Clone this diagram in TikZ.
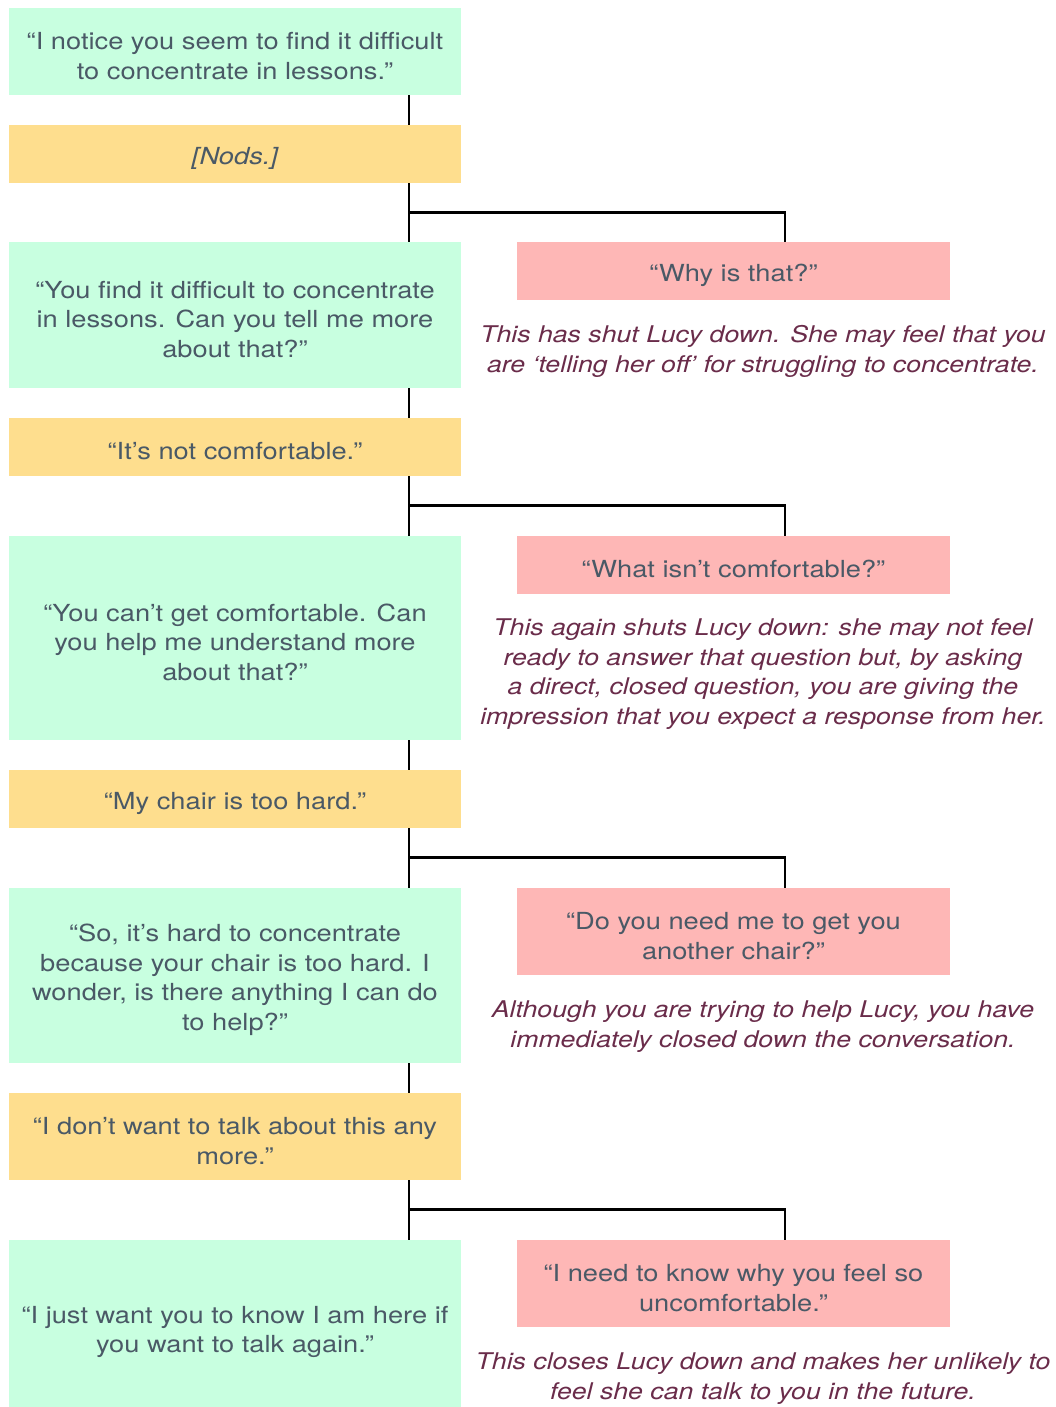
\documentclass[tikz,border=0pt]{standalone}
\usepackage{fontspec}
\setmainfont{TeX Gyre Heros}[FakeStretch=1.16]
\definecolor{gfill}{HTML}{C8FFE0}
\definecolor{yfill}{HTML}{FEDE8E}
\definecolor{pfill}{HTML}{FEB7B6}
\definecolor{txt}{HTML}{4A5966}
\definecolor{ctxt}{HTML}{6A2C4A}
\newcommand{\topgap}{\rule{0pt}{26pt}}
\newcommand{\ctopgap}{\rule{0pt}{23pt}}
\tikzset{
  boxbase/.style={rectangle, inner sep=0pt, align=center, text=txt,
    font=\fontsize{23.5}{29.5}\selectfont},
  gbox/.style={boxbase, fill=gfill, minimum width=452pt},
  ybox/.style={boxbase, fill=yfill, minimum width=452pt},
  pbox/.style={boxbase, fill=pfill, minimum width=433pt},
  comment/.style={inner sep=0pt, align=center, text=ctxt,
    font=\fontsize{23}{29.5}\selectfont\itshape},
  link/.style={draw=black, line width=2.9pt}
}
\begin{document}
\begin{tikzpicture}[x=1pt,y=-1pt]
\useasboundingbox (0,0) rectangle (1056,1407);
\clip (0,0) rectangle (1056,1407);
\coordinate (tx) at (409,0);
\coordinate (dx) at (785,0);
% boxes
\node[gbox, minimum height=87pt] (g1) at (235,51.5) {\topgap“I notice you seem to find it difficult\\to concentrate in lessons.”};
\node[ybox, minimum height=58pt] (y1) at (235,154) {\topgap\itshape [Nods.]};
\node[gbox, minimum height=146pt] (g2) at (235,315) {\topgap“You find it difficult to concentrate\\in lessons. Can you tell me more\\about that?”};
\node[pbox, minimum height=58pt] (p1) at (733.5,271) {\topgap“Why is that?”};
\node[comment] (c1) at (763,348.5) {\ctopgap This has shut Lucy down. She may feel that you\\are ‘telling her off’ for struggling to concentrate.};
\node[ybox, minimum height=58pt] (y2) at (235,447) {\topgap“It’s not comfortable.”};
\node[gbox, minimum height=204pt] (g3) at (235,638) {\topgap“You can’t get comfortable. Can\\you help me understand more\\about that?”};
\node[pbox, minimum height=58pt] (p2) at (733.5,565) {\topgap“What isn’t comfortable?”};
\node[comment] (c2) at (763,671) {\ctopgap This again shuts Lucy down: she may not feel\\ready to answer that question but, by asking\\a direct, closed question, you are giving the\\impression that you expect a response from her.};
\node[ybox, minimum height=58pt] (y3) at (235,799) {\topgap“My chair is too hard.”};
\node[gbox, minimum height=175pt] (g4) at (235,975.5) {\topgap“So, it’s hard to concentrate\\because your chair is too hard. I\\wonder, is there anything I can do\\to help?”};
\node[pbox, minimum height=87pt] (p3) at (733.5,931.5) {\topgap“Do you need me to get you\\another chair?”};
\node[comment] (c3) at (763,1023.5) {\ctopgap Although you are trying to help Lucy, you have\\immediately closed down the conversation.};
\node[ybox, minimum height=87pt] (y4) at (235,1136.5) {\topgap“I don’t want to talk about this any\\more.”};
\node[gbox, minimum height=175pt] (g5) at (235,1327.5) {\topgap“I just want you to know I am here if\\you want to talk again.”};
\node[pbox, minimum height=87pt] (p4) at (733.5,1283.5) {\topgap“I need to know why you feel so\\uncomfortable.”};
\node[comment] (c4) at (763,1375.5) {\ctopgap This closes Lucy down and makes her unlikely to\\feel she can talk to you in the future.};
% connectors
\draw[link] (g1.south -| tx) -- (y1.north -| tx);
\draw[link] (y1.south -| tx) -- (g2.north -| tx);
\draw[link] (y1.south -| tx) ++(0,29.5) -| (p1.north -| dx);
\draw[link] (g2.south -| tx) -- (y2.north -| tx);
\draw[link] (y2.south -| tx) -- (g3.north -| tx);
\draw[link] (y2.south -| tx) ++(0,29.5) -| (p2.north -| dx);
\draw[link] (g3.south -| tx) -- (y3.north -| tx);
\draw[link] (y3.south -| tx) -- (g4.north -| tx);
\draw[link] (y3.south -| tx) ++(0,29.5) -| (p3.north -| dx);
\draw[link] (g4.south -| tx) -- (y4.north -| tx);
\draw[link] (y4.south -| tx) -- (g5.north -| tx);
\draw[link] (y4.south -| tx) ++(0,29.5) -| (p4.north -| dx);
\end{tikzpicture}
\end{document}
